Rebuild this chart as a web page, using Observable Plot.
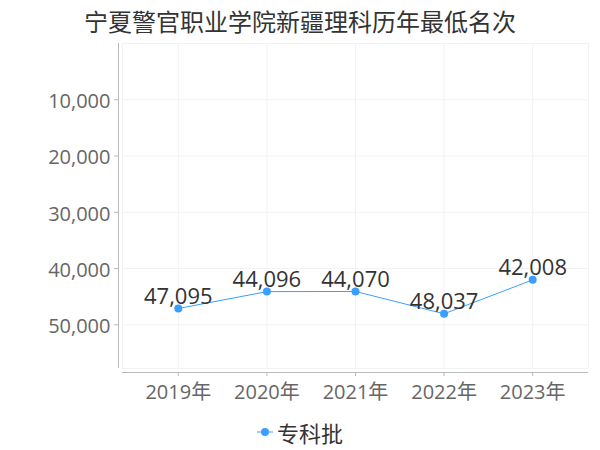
<!DOCTYPE html>
<html>
<head>
<meta charset="utf-8">
<script src="https://cdn.jsdelivr.net/npm/d3@7"></script>
<script src="https://cdn.jsdelivr.net/npm/@observablehq/plot@0.6"></script>
<style>
  html, body { margin: 0; padding: 0; background: #fff; }
  body { width: 600px; height: 450px; position: relative; overflow: hidden;
         font-family: "Open Sans", "Noto Sans CJK SC", sans-serif; }
  #chart { position: absolute; left: 0; top: 0; z-index: 0; }
  #title { position: absolute; left: 0; top: 8px; width: 600px; text-align: center; z-index: 2;
           font-size: 24px; line-height: 26px; color: #333; font-family: "Noto Sans CJK SC", sans-serif; }
  #legend { position: absolute; left: 0; top: 420px; width: 600px; height: 24px; display: flex; z-index: 2;
            justify-content: center; align-items: center; font-size: 22px; line-height: 24px; color: #333;
            font-family: "Noto Sans CJK SC", sans-serif; }
  #legend .sw { position: relative; width: 16px; height: 10px; margin-right: 4px; }
  #legend .sw .ln { position: absolute; left: 0; top: 4px; width: 16px; height: 2px; background: #9fd0ff; }
  #legend .sw .dt { position: absolute; left: 4px; top: 1px; width: 8px; height: 8px; border-radius: 50%; background: #3a9fff; }
</style>
</head>
<body>
<div id="chart"></div>
<div id="title">宁夏警官职业学院新疆理科历年最低名次</div>
<div id="legend"><div class="sw"><div class="ln"></div><div class="dt"></div></div><span>专科批</span></div>
<script>
const years = [2019, 2020, 2021, 2022, 2023];
const ranks = [47095, 44096, 44070, 48037, 42008];
const seriesName = "专科批";
const yTicks = [10000, 20000, 30000, 40000, 50000];

const data = years.map((y, i) => ({year: y, rank: ranks[i], series: seriesName}));
const blue = "#3a9fff";
const xDomain = [2019 - 0.63, 2023 + 0.63];
const yDomain = [0, 57760];
const fmt = d3.format(",");
const font = "'Open Sans', 'Noto Sans CJK SC', sans-serif";

const chart = Plot.plot({
  width: 600,
  height: 450,
  marginTop: 43,
  marginBottom: 82,
  marginLeft: 122,
  marginRight: 12,
  style: {fontFamily: font, background: "transparent"},
  x: {type: "linear", domain: xDomain},
  y: {domain: yDomain, reverse: true},
  marks: [
    // light grid
    Plot.ruleX([xDomain[0], ...years, xDomain[1]], {stroke: "#f2f2f2", strokeWidth: 1}),
    Plot.ruleY([yDomain[0], ...yTicks, yDomain[1]], {stroke: "#f2f2f2", strokeWidth: 1}),
    // axis lines
    Plot.ruleX([xDomain[0]], {stroke: "#bbb", dx: -4}),
    Plot.ruleY([yDomain[1]], {stroke: "#bbb", dy: 4}),
    // y ticks + labels
    Plot.axisY(yTicks, {dx: -4, tickSize: 4, tickFormat: () => "", stroke: "#bbb", label: null}),
    Plot.text(yTicks, {y: d => d, frameAnchor: "left", dx: -12, dy: 2, textAnchor: "end", text: d => fmt(d), fontSize: 20, fill: "#666"}),
    // x ticks + labels
    Plot.axisX(years, {dy: 4, tickSize: 4, tickPadding: 8, tickFormat: d => d + "年", fontSize: 20, fill: "#666", stroke: "#bbb", label: null}),
    Plot.line(data, {x: "year", y: "rank", stroke: blue, strokeWidth: 1}),
    Plot.dot(data, {x: "year", y: "rank", fill: blue, r: 4}),
    Plot.text(data, {x: "year", y: "rank", text: d => fmt(d.rank), dy: -12, fontSize: 22, fill: "#333"})
  ]
});
document.getElementById("chart").appendChild(chart);
</script>
</body>
</html>
